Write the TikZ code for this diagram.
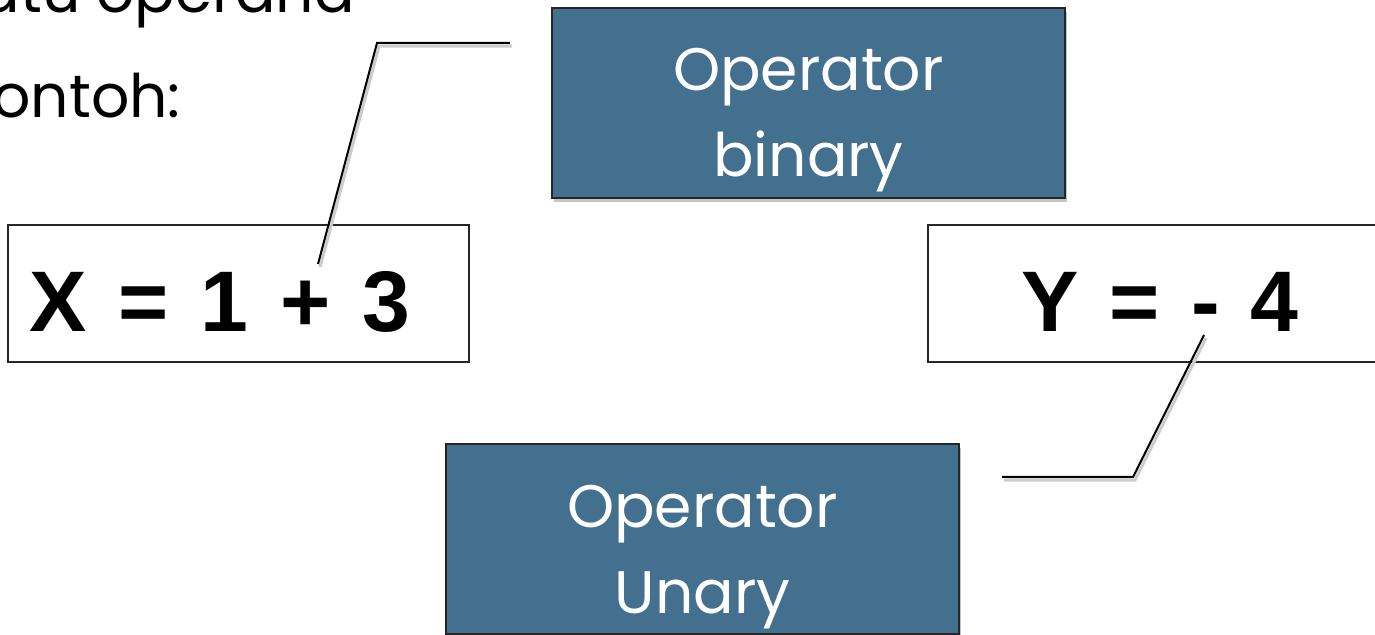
\documentclass[tikz,border=0pt]{standalone}
\usepackage{fontspec}
\newfontfamily\eqfont[WordSpace=1.3]{Liberation Sans}
\newfontfamily\gothfamily{Poppins}
\newcommand\gothfont{\gothfamily\fontsize{30}{43}\selectfont}
\usetikzlibrary{shadows}
\definecolor{opblue}{RGB}{67,112,142}

\begin{document}
\begin{tikzpicture}
      [ x=0.5pt, y=-0.5pt
      , opbox/.style={draw=black!85, fill=opblue, line width=1pt, inner sep=0pt,
          minimum width=256.5pt, minimum height=95pt,
          drop shadow={shadow xshift=1pt, shadow yshift=-2pt, fill=black!45, opacity=.5}}
      , optext/.style={font=\gothfont, text=white, inner sep=0pt, anchor=base}
      , eqbox/.style={draw=black!85, fill=white, line width=0.9pt, inner sep=0pt}
      , eqtext/.style={font=\eqfont\bfseries\fontsize{43}{43}\selectfont, inner sep=0pt, anchor=base west}
      , slide/.style={font=\gothfont, inner sep=0pt, anchor=base east}
      , callout/.style={draw=black, line width=1pt,
          preaction={draw=black!20, line width=1.6pt, transform canvas={shift={(1pt,-1.5pt)}}}}
      ]
    \useasboundingbox (0,0) rectangle (1375,635);

    % slide text, cut by the page edge
    \node (L1) [slide] at (355,13) {satu operand};
    \node (L2) [slide] at (181,118) {Contoh:};

    % expressions
    \node (X) [eqbox, minimum width=230.5pt, minimum height=68.5pt] at (238.5,293.5) {};
    \node (Xt) [eqtext] at (29,332) {\spaceskip=0.37em X = 1 + 3};
    \node (Y) [eqbox, minimum width=240pt, minimum height=68.5pt] at (1168,293.5) {};
    \node (Yt) [eqtext] at (1021,332) {Y = - 4};

    % operator boxes
    \node (OB) [opbox] at (808.5,103) {};
    \node (OB1) [optext] at (808.5,91) {Operator};
    \node (OB2) [optext] at (808.5,177) {binary};

    \node (OU) [opbox] at (702.5,539) {};
    \node (OU1) [optext] at (702.5,527) {Operator};
    \node (OU2) [optext] at (702.5,613) {Unary};

    % callouts
    \coordinate (BT) at (510,43);
    \coordinate (BK) at (377,43);
    \coordinate (BP) at (318,264);
    \draw[callout] (BT) -- (BK) -- (BP);

    \coordinate (UT) at (1002,477);
    \coordinate (UK) at (1133,477);
    \coordinate (UM) at (1204,335);
    \draw[callout] (UT) -- (UK) -- (UM);

  \end{tikzpicture}
\end{document}
